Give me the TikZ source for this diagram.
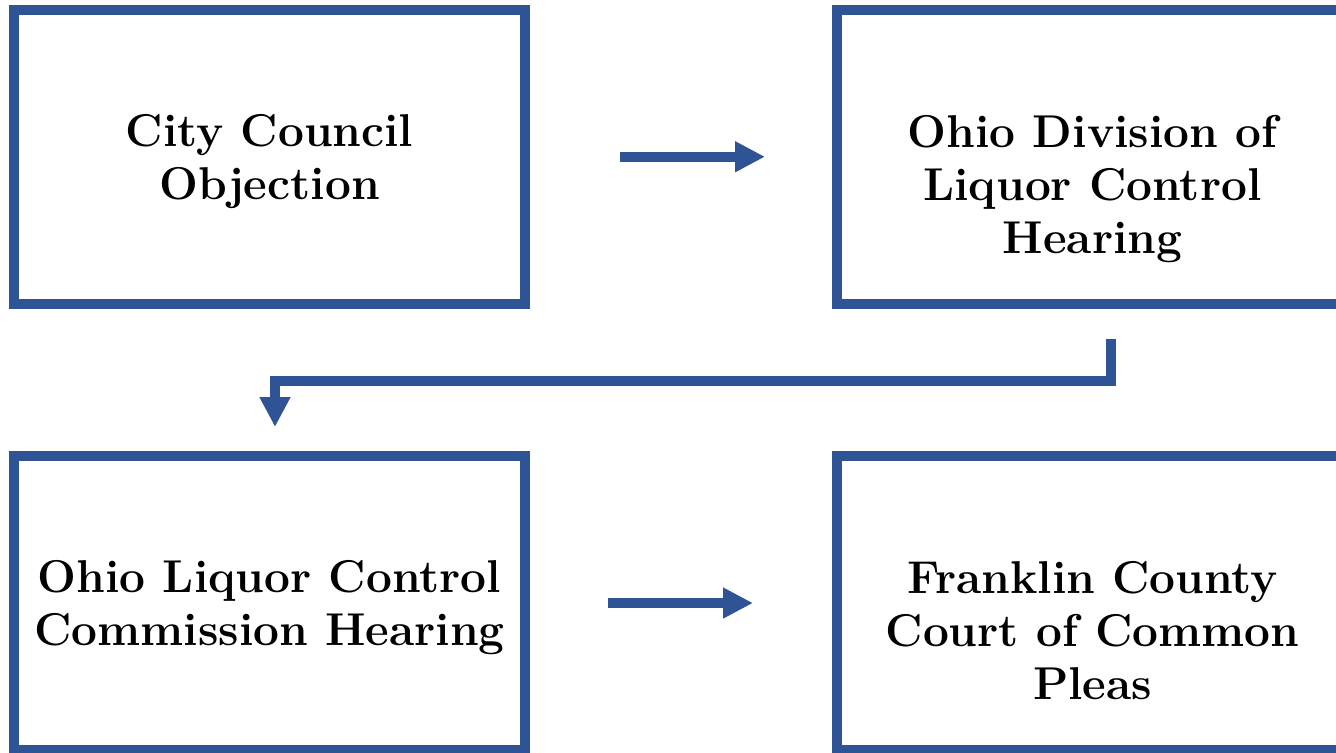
\documentclass[tikz,border=0pt]{standalone}
\usepackage{tikz}
\usetikzlibrary{positioning,
        arrows.meta}
\usepackage{xcolor}
\definecolor{stageblue}{HTML}{2F5496}

\begin{document}
\begin{tikzpicture}[x=0.5pt,y=-0.5pt,
            stage/.style={rectangle,draw=stageblue,line width=5pt,minimum width=255.5pt,minimum height=147pt,align=center,text depth=0pt,font=\fontsize{23}{26.5}\selectfont\bfseries},
            flow/.style={draw=stageblue,line width=5pt,-{Triangle[length=15pt,width=14.5pt]}}]
            \clip (0,0) rectangle (1336,752);
            \node [stage] (council) at (269.5,156.75) {City Council\\Objection};
            \node [stage] (division) at (1092.5,156.75) {\rule{0pt}{17pt}\\Ohio Division of\\Liquor Control\\Hearing};
            \node [stage] (commission) at (269.5,603) {Ohio Liquor Control\\Commission Hearing};
            \node [stage] (court) at (1092.5,603) {\rule{0pt}{17pt}\\Franklin County\\Court of Common\\Pleas};

            \draw [flow] ([xshift=45pt]council.east) -- ([xshift=-33.5pt]division.west);
            \draw [flow] ([shift={(18.5,30)}]division.south) -- ++(0,42) -| ([shift={(5.5,-24)}]commission.north);
            \draw [flow] ([xshift=39pt]commission.east) -- ([xshift=-39.5pt]court.west);
        \end{tikzpicture}
\end{document}
